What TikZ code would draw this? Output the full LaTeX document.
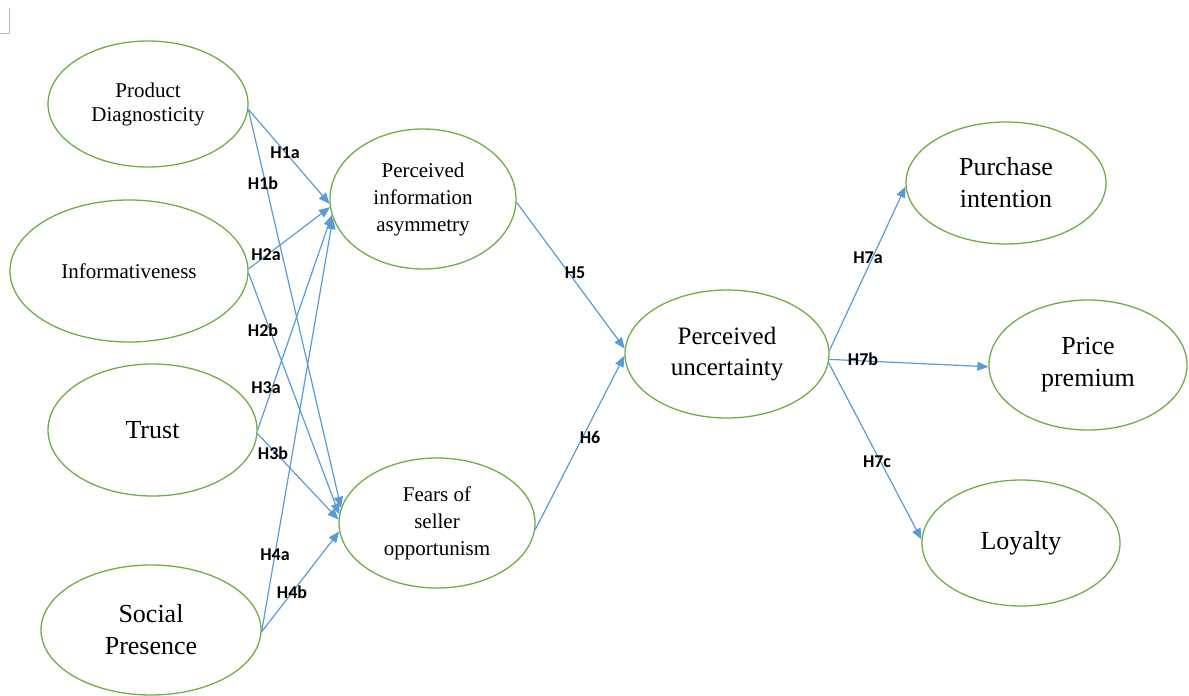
\documentclass[tikz,border=0pt]{standalone}
\usepackage{fontspec}
\setmainfont{Liberation Serif}
\newfontfamily\lblfont{Carlito}
\usetikzlibrary{shapes.geometric,arrows.meta}
\definecolor{ellgreen}{RGB}{112,173,71}
\definecolor{arrblue}{RGB}{91,155,213}
\definecolor{markgray}{RGB}{191,191,191}
\begin{document}
\begin{tikzpicture}[x=1pt,y=-1pt,
  ell/.style={ellipse,draw=ellgreen,line width=1.3pt,inner sep=0pt,align=center},
  smalltxt/.style={font=\fontsize{21}{24}\selectfont},
  midtxt/.style={font=\fontsize{21}{27}\selectfont},
  bigtxt/.style={font=\fontsize{25}{31}\selectfont},
  hugetxt/.style={font=\fontsize{26}{32}\selectfont},
  conn/.style={draw=arrblue,line width=1.2pt,-{Triangle[length=11pt,width=9pt]}},
  hlabel/.style={font=\lblfont\bfseries\fontsize{18}{18}\selectfont,inner sep=0pt,text=black}
]
\useasboundingbox (0,0) rectangle (1189,696);
% corner mark
\draw[markgray,line width=0.9pt] (0,33) -- (9,33) -- (9,8);

% nodes
\node[ell,smalltxt,minimum width=200pt,minimum height=126pt] (pd) at (148,104) {Product\\Diagnosticity};
\node[ell,smalltxt,minimum width=238pt,minimum height=142pt] (inf) at (129,271) {Informativeness};
\node[ell,hugetxt,minimum width=209pt,minimum height=132pt] (tr) at (152.5,430) {Trust};
\node[ell,hugetxt,minimum width=220pt,minimum height=130pt] (sp) at (151,630) {Social\\Presence};
\node[ell,midtxt,minimum width=186pt,minimum height=140pt] (pia) at (423,199) {Perceived\\information\\asymmetry};
\node[ell,midtxt,minimum width=196pt,minimum height=130pt] (fso) at (437,523) {Fears of\\seller\\opportunism};
\node[ell,bigtxt,minimum width=204pt,minimum height=128pt] (pu) at (727,354) {Perceived\\uncertainty};
\node[ell,hugetxt,minimum width=200pt,minimum height=122pt] (pi) at (1006,183) {Purchase\\intention};
\node[ell,hugetxt,minimum width=198pt,minimum height=130pt] (pp) at (1088,365) {Price\\premium};
\node[ell,hugetxt,minimum width=198pt,minimum height=126pt] (loy) at (1021,543) {Loyalty};

% connectors
\draw[conn] (pd.-3.5) -- (pia.183.6);
\draw[conn] (pd.-3.5) -- (fso.171);
\draw[conn] (inf.1) -- (pia.185.5);
\draw[conn] (inf.-1.5) -- (fso.175.3);
\draw[conn] (tr.-0.5) -- (pia.190.5);
\draw[conn] (tr.-2) -- (fso.178.2);
\draw[conn] (sp.-1.5) -- (pia.192.4);
\draw[conn] (sp.-1.5) -- (fso.185.3);
\draw[conn] (pia.-2.4) -- (pu.177.7);
\draw[conn] (fso.-4.1) -- (pu.181.7);
\draw[conn] (pu.2) -- (pi.182.3);
\draw[conn] (pu.-3) -- (pp.181.7);
\draw[conn] (pu.-5) -- (loy.178.3);

% labels
\node[hlabel] (l1a) at (285,153) {H1a};
\node[hlabel] (l1b) at (263,183) {H1b};
\node[hlabel] (l2a) at (266,255) {H2a};
\node[hlabel] (l2b) at (263,330) {H2b};
\node[hlabel] (l3a) at (266,388) {H3a};
\node[hlabel] (l3b) at (273,453) {H3b};
\node[hlabel] (l4a) at (275,555) {H4a};
\node[hlabel] (l4b) at (292,592) {H4b};
\node[hlabel] (l5) at (575,273) {H5};
\node[hlabel] (l6) at (590,437) {H6};
\node[hlabel] (l7a) at (868,258) {H7a};
\node[hlabel] (l7b) at (863,359) {H7b};
\node[hlabel] (l7c) at (877,462) {H7c};
\end{tikzpicture}
\end{document}
